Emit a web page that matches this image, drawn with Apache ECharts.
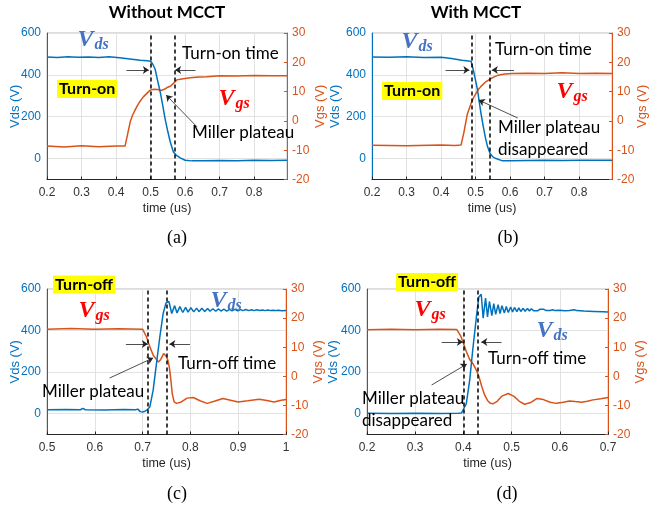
<!DOCTYPE html>
<html>
<head>
<meta charset="utf-8">
<script src="https://cdn.jsdelivr.net/npm/echarts@6/dist/echarts.min.js"></script>
<style>html,body{margin:0;padding:0;background:#fff}#c{width:649px;height:510px}</style>
</head>
<body>
<div id="c"></div>
<script>
// ---------- data (time in us, Vds in V, Vgs in V) ----------
// (a) Without MCCT, turn-on
const tVdsA = [0.200, 0.230, 0.260, 0.290, 0.320, 0.350, 0.380, 0.410, 0.440, 0.470, 0.490, 0.500, 0.506, 0.513, 0.520, 0.528, 0.535, 0.542, 0.550, 0.557, 0.566, 0.575, 0.586, 0.600, 0.620, 0.650, 0.700, 0.750, 0.800, 0.850, 0.895];
const vdsA  = [485, 483, 486, 484, 485, 483, 486, 482, 476, 470, 467, 465, 452, 428, 375, 317, 255, 190, 128, 79, 31, 15, 3, -8, -11, -10, -9, -10, -8, -9, -8];
const tVgsA = [0.200, 0.250, 0.300, 0.350, 0.400, 0.426, 0.433, 0.441, 0.448, 0.455, 0.462, 0.469, 0.479, 0.489, 0.499, 0.510, 0.520, 0.530, 0.540, 0.550, 0.558, 0.566, 0.576, 0.590, 0.615, 0.640, 0.663, 0.700, 0.750, 0.800, 0.850, 0.895];
const vgsA  = [-8.6, -8.9, -8.5, -8.8, -8.6, -8.6, -4.8, -0.3, 2.0, 3.7, 5.3, 6.6, 8.2, 9.4, 10.5, 10.8, 10.7, 10.4, 10.8, 11.5, 11.9, 12.8, 14.0, 14.3, 14.7, 15.0, 15.1, 15.4, 15.3, 15.5, 15.4, 15.4];
const dashA = [0.500, 0.566];

// (b) With MCCT, turn-on
const tVdsB = [0.200, 0.250, 0.300, 0.350, 0.400, 0.430, 0.460, 0.480, 0.487, 0.495, 0.505, 0.515, 0.522, 0.529, 0.535, 0.542, 0.550, 0.559, 0.578, 0.600, 0.650, 0.700, 0.750, 0.800, 0.850, 0.895];
const vdsB  = [485, 484, 486, 483, 484, 478, 470, 466, 465, 412, 333, 222, 155, 95, 55, 24, 8, 0, -11, -10, -9, -8, -9, -8, -8, -8];
const tVgsB = [0.200, 0.300, 0.400, 0.440, 0.458, 0.466, 0.476, 0.487, 0.494, 0.501, 0.508, 0.515, 0.528, 0.542, 0.555, 0.568, 0.585, 0.607, 0.650, 0.700, 0.750, 0.800, 0.850, 0.895];
const vgsB  = [-8.3, -8.5, -8.2, -8.4, -8.2, -4.0, 2.3, 6.0, 7.9, 9.4, 10.7, 11.7, 13.2, 14.3, 15.1, 15.7, 16.0, 16.2, 16.3, 16.2, 16.4, 16.2, 16.3, 16.2];
const dashB = [0.487, 0.542];

// (c) Without MCCT, turn-off
const tVdsC = [0.500, 0.540, 0.570, 0.575, 0.580, 0.620, 0.660, 0.685, 0.690, 0.695, 0.700, 0.705, 0.710, 0.715, 0.722, 0.729, 0.736, 0.743, 0.749, 0.755, 0.761, 0.767, 0.772, 0.778, 0.784, 0.790, 0.795, 0.801, 0.807, 0.813, 0.818, 0.824, 0.830, 0.836, 0.841, 0.847, 0.853, 0.859, 0.864, 0.870, 0.876, 0.882, 0.887, 0.893, 0.899, 0.905, 0.910, 0.916, 0.922, 0.928, 0.933, 0.939, 0.945, 0.951, 0.956, 0.962, 0.968, 0.974, 0.979, 0.985, 0.991, 1.000];
const vdsC  = [19, 20, 19, 26, 19, 18, 20, 19, 22, 10, 8, 12, 20, 32, 112, 241, 369, 482, 533, 540, 482, 520, 485, 515, 487, 512, 489, 510, 490, 508, 491, 507, 492, 506, 493, 505, 493, 504, 494, 503, 494, 502, 495, 502, 495, 501, 496, 501, 496, 500, 496, 500, 497, 499, 496, 499, 496, 498, 496, 498, 495, 496];
const tVgsC = [0.500, 0.550, 0.600, 0.650, 0.700, 0.704, 0.708, 0.715, 0.722, 0.728, 0.733, 0.738, 0.744, 0.749, 0.753, 0.756, 0.759, 0.762, 0.766, 0.771, 0.781, 0.793, 0.806, 0.820, 0.835, 0.850, 0.868, 0.884, 0.900, 0.920, 0.944, 0.960, 0.975, 0.990, 1.000];
const vgsC  = [16.2, 16.4, 16.2, 16.3, 16.2, 16.0, 13.6, 10.2, 7.3, 6.0, 4.9, 5.8, 7.8, 7.0, 5.5, 3.0, -1.0, -6.0, -8.8, -9.3, -8.8, -7.5, -7.3, -8.4, -9.3, -8.6, -7.6, -8.2, -8.8, -8.4, -7.9, -8.3, -8.8, -8.2, -8.0];
const dashC = [0.715, 0.751];

// (d) With MCCT, turn-off
const tVdsD = [0.200, 0.250, 0.300, 0.350, 0.390, 0.396, 0.400, 0.406, 0.413, 0.420, 0.427, 0.432, 0.437, 0.441, 0.446, 0.450, 0.454, 0.459, 0.463, 0.467, 0.472, 0.476, 0.480, 0.485, 0.489, 0.493, 0.498, 0.502, 0.506, 0.511, 0.515, 0.519, 0.524, 0.528, 0.533, 0.537, 0.541, 0.546, 0.550, 0.554, 0.559, 0.563, 0.567, 0.572, 0.576, 0.580, 0.585, 0.590, 0.600, 0.610, 0.620, 0.630, 0.635, 0.650, 0.670, 0.690, 0.700];
const vdsD  = [2, 1, 2, 1, 2, 3, 8, 48, 160, 321, 466, 562, 575, 460, 556, 466, 540, 472, 530, 478, 525, 482, 520, 485, 516, 487, 513, 489, 511, 491, 509, 492, 507, 493, 506, 494, 505, 495, 504, 495, 503, 496, 502, 496, 501, 497, 500, 496, 498, 495, 497, 500, 496, 494, 492, 490, 489];
const tVgsD = [0.200, 0.250, 0.300, 0.350, 0.386, 0.390, 0.394, 0.399, 0.406, 0.413, 0.420, 0.426, 0.432, 0.438, 0.444, 0.450, 0.456, 0.462, 0.470, 0.480, 0.493, 0.505, 0.516, 0.527, 0.540, 0.553, 0.566, 0.580, 0.593, 0.607, 0.620, 0.632, 0.645, 0.657, 0.669, 0.685, 0.700];
const vgsD  = [16.0, 16.2, 16.0, 16.2, 16.1, 15.6, 14.0, 11.9, 8.5, 5.8, 4.3, 2.4, 0.0, -3.4, -6.4, -8.3, -9.3, -9.4, -8.6, -6.8, -5.9, -6.9, -8.6, -9.6, -9.0, -7.6, -8.0, -8.9, -9.3, -8.9, -8.5, -8.7, -8.9, -8.6, -8.1, -7.7, -7.3];
const dashD = [0.404, 0.432];

// axis ranges / tick labels
const vdsRange = [-100, 600];
const vgsRange = [-20, 30];
const titles = ['Without MCCT', 'With MCCT'];
const captions = ['(a)', '(b)', '(c)', '(d)'];

// ---------- styling ----------
const BLUE = '#0072BD', ORANGE = '#D95319', AX = '#262626';
const SANS = 'Liberation Sans';
const ANN = 'Lato';

function zip(t, v) { return t.map((x, i) => [x, v[i]]); }

const panels = [
  { grid: {left: 47, top: 33, width: 240, height: 146.5}, x: [0.2, 0.895], showMax: false, lGap: 25.5, rGap: 26.5,
    vds: zip(tVdsA, vdsA), vgs: zip(tVgsA, vgsA), dash: dashA,
    arrows: [[[0.43, 17.4], [0.495, 17.4]], [[0.63, 17.4], [0.571, 17.4]], [[0.635, -2.1], [0.545, 8.8]]] },
  { grid: {left: 372, top: 33, width: 240, height: 146.5}, x: [0.2, 0.895], showMax: false, lGap: 30, rGap: 23.5,
    vds: zip(tVdsB, vdsB), vgs: zip(tVgsB, vgsB), dash: dashB,
    arrows: [[[0.413, 17.4], [0.482, 17.4]], [[0.611, 17.4], [0.547, 17.4]], [[0.622, 1.0], [0.509, 7.1]]] },
  { grid: {left: 47, top: 289, width: 239, height: 145.5}, x: [0.5, 1.0], showMax: true, lGap: 25.5, rGap: 25.5,
    vds: zip(tVdsC, vdsC), vgs: zip(tVgsC, vgsC), dash: dashC,
    arrows: [[[0.665, 11.1], [0.711, 11.1]], [[0.799, 11.1], [0.756, 11.1]], [[0.631, -0.6], [0.722, 6.3]]] },
  { grid: {left: 367, top: 289, width: 241, height: 145.5}, x: [0.2, 0.7], showMax: true, lGap: 27.5, rGap: 25.5,
    vds: zip(tVdsD, vdsD), vgs: zip(tVgsD, vgsD), dash: dashD,
    arrows: [[[0.355, 11.8], [0.399, 11.8]], [[0.479, 11.8], [0.437, 11.8]], [[0.334, -3.0], [0.407, 4.2]]] }
];

const grids = [], xAxes = [], yAxes = [], series = [];
panels.forEach((p, k) => {
  grids.push(Object.assign({ show: true, borderColor: '#bdbdbd', borderWidth: 1, backgroundColor: 'transparent', outerBoundsMode: 'none', containLabel: false }, p.grid));
  xAxes.push({
    type: 'value', gridIndex: k, min: p.x[0], max: p.x[1], interval: 0.1,
    name: 'time (us)', nameLocation: 'middle', nameGap: 22.5, nameMoveOverlap: false,
    nameTextStyle: { color: AX, fontSize: 12.5, fontFamily: SANS },
    axisLine: { show: true, onZero: false, lineStyle: { color: AX, width: 1 } },
    axisTick: { show: true, inside: true, length: 3, lineStyle: { color: AX } },
    axisLabel: { color: '#333', fontSize: 12, fontFamily: SANS, margin: 7, showMaxLabel: p.showMax, showMinLabel: true },
    splitLine: { show: true, lineStyle: { color: '#e2e2e2', width: 1 } }
  });
  yAxes.push({
    type: 'value', gridIndex: k, position: 'left', min: vdsRange[0], max: vdsRange[1], interval: 100,
    name: 'Vds (V)', nameLocation: 'middle', nameGap: p.lGap, nameRotate: 90, nameMoveOverlap: false,
    nameTextStyle: { color: BLUE, fontSize: 13, fontFamily: SANS },
    axisLine: { show: true, onZero: false, lineStyle: { color: BLUE, width: 1 } },
    axisTick: { show: false },
    axisLabel: { color: BLUE, fontSize: 12, fontFamily: SANS, margin: 6,
      formatter: v => (Math.round(v) % 200 === 0 ? String(Math.round(v)) : '') },
    splitLine: { show: true, lineStyle: { color: ['rgba(0,0,0,0)', '#e2e2e2'], width: 1 } }
  });
  yAxes.push({
    type: 'value', gridIndex: k, position: 'right', min: vgsRange[0], max: vgsRange[1], interval: 10,
    name: 'Vgs (V)', nameLocation: 'middle', nameGap: p.rGap, nameRotate: 90, nameMoveOverlap: false,
    nameTextStyle: { color: ORANGE, fontSize: 13, fontFamily: SANS },
    axisLine: { show: true, onZero: false, lineStyle: { color: ORANGE, width: 1 } },
    axisTick: { show: true, inside: true, length: 3, lineStyle: { color: ORANGE } },
    axisLabel: { color: ORANGE, fontSize: 12, fontFamily: SANS, margin: 5 },
    splitLine: { show: false }
  });
  series.push({
    type: 'line', xAxisIndex: k, yAxisIndex: 2 * k, data: p.vds, symbol: 'none', showSymbol: false,
    lineStyle: { color: BLUE, width: 1.5 }, itemStyle: { color: BLUE }, z: 3, silent: true,
    markLine: {
      silent: true, animation: false, symbol: ['none', 'none'], label: { show: false },
      lineStyle: { color: '#000', type: [4, 3], width: 1.5 },
      data: p.dash.map(v => ({ xAxis: v }))
    }
  });
  series.push({
    type: 'line', xAxisIndex: k, yAxisIndex: 2 * k + 1, data: p.vgs, symbol: 'none', showSymbol: false,
    lineStyle: { color: ORANGE, width: 1.5 }, itemStyle: { color: ORANGE }, z: 2, silent: true,
    markLine: {
      silent: true, animation: false, symbol: ['none', 'arrow'], symbolSize: 6, label: { show: false },
      lineStyle: { color: '#222', type: 'solid', width: 0.8 },
      data: p.arrows.map(a => [{ coord: a[0] }, { coord: a[1] }])
    }
  });
});

// ---------- annotations ----------
const graphic = [];
function txt(text, x, y, font, align, fill) {
  graphic.push({ type: 'text', x: x, y: y, z: 100, silent: true,
    style: { text: text, font: font, fill: fill || '#000', textAlign: align || 'left', textVerticalAlign: 'middle' } });
}
txt(titles[0], 167, 13, 'bold 17px ' + ANN, 'center');
txt(titles[1], 476, 13, 'bold 17px ' + ANN, 'center');
[[177, 238], [508, 238], [177, 494], [507, 494]].forEach((pos, i) =>
  txt(captions[i], pos[0], pos[1], '18px "Liberation Serif"', 'center'));

[['Turn-on time', 182, 54], ['Miller plateau', 192, 133],
 ['Turn-on time', 495, 50], ['Miller plateau', 498, 128], ['disappeared', 498, 150],
 ['Turn-off time', 178, 364], ['Miller plateau', 42, 392],
 ['Turn-off time', 488, 359], ['Miller plateau', 362, 399], ['disappeared', 362, 421]
].forEach(t => txt(t[0], t[1], t[2], '17px ' + ANN, 'left'));

[['Turn-on', 57, 89], ['Turn-on', 382, 91], ['Turn-off', 53, 284.5], ['Turn-off', 396, 282]].forEach(t => {
  graphic.push({ type: 'text', x: t[1], y: t[2], z: 100, silent: true,
    style: { text: t[0], font: 'bold 16px ' + ANN, fill: '#000', backgroundColor: '#FFFF00',
      padding: [1, 2, 0, 2], lineHeight: 17, textAlign: 'left', textVerticalAlign: 'middle' } });
});

const VDS_C = '#4472C4', VGS_C = '#FF0000';
[['ds', VDS_C, 93, 41], ['gs', VGS_C, 234, 100], ['ds', VDS_C, 417, 43], ['gs', VGS_C, 572, 93],
 ['gs', VGS_C, 94, 312], ['ds', VDS_C, 226, 302], ['gs', VGS_C, 430, 311], ['ds', VDS_C, 552, 332]
].forEach(t => {
  const base = { fontFamily: 'Liberation Serif', fontStyle: 'italic', fontWeight: 'bold', fill: t[1], verticalAlign: 'bottom' };
  graphic.push({ type: 'text', x: t[2], y: t[3], z: 100, silent: true,
    style: { text: '{v|V}{s|' + t[0] + '}', textAlign: 'center', textVerticalAlign: 'middle',
      rich: { v: Object.assign({ fontSize: 24, lineHeight: 24, padding: [0, 1, 1, 0] }, base),
              s: Object.assign({ fontSize: 16, lineHeight: 16 }, base) } } });
});

const chart = echarts.init(document.getElementById('c'), null, { renderer: 'canvas' });
chart.setOption({
  animation: false,
  backgroundColor: '#ffffff',
  textStyle: { fontFamily: SANS },
  grid: grids, xAxis: xAxes, yAxis: yAxes, series: series, graphic: graphic
});
</script>
</body>
</html>
